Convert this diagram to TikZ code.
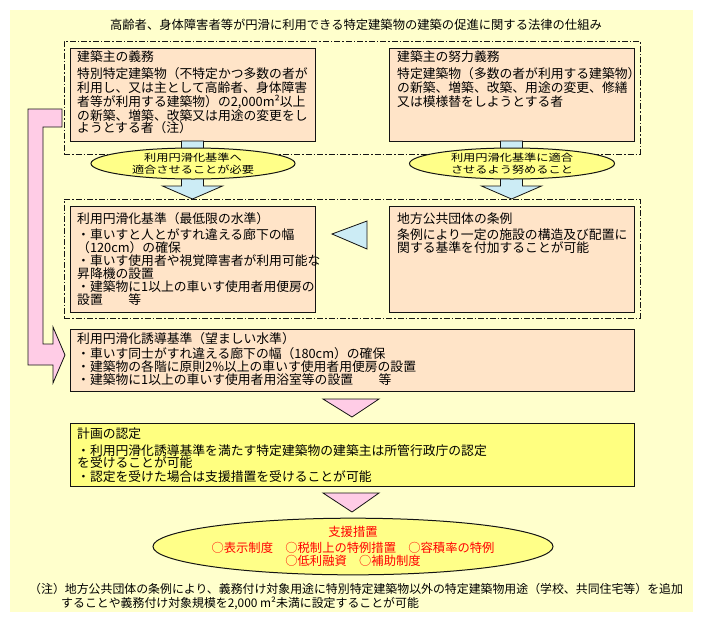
\documentclass[tikz,border=0pt]{standalone}
\usepackage{fontspec}
\setmainfont{Noto Sans CJK JP}
\usepackage{graphicx}
\usetikzlibrary{calc,shapes.geometric}
\definecolor{bgyel}{HTML}{FFFFCC}
\definecolor{peach}{HTML}{FFE4C8}
\definecolor{boxyel}{HTML}{FFFF80}
\definecolor{elyel}{HTML}{FFFF88}
\definecolor{lblue}{HTML}{CCECF5}
\definecolor{pinkc}{HTML}{FFCCE6}
\definecolor{outl}{HTML}{141414}
\definecolor{redtxt}{HTML}{FF0000}
\newcommand{\jline}[4]{\node[txt] (#1) at (#2,#3) {#4};}
\begin{document}
\begin{tikzpicture}[x=1pt,y=-1pt,
  pbox/.style={draw=outl,line width=1pt,fill=peach,anchor=north west,inner sep=0pt,outer sep=0pt},
  ybox/.style={pbox,fill=boxyel},
  dashbox/.style={draw=outl,line width=0.8pt,dash pattern=on 6pt off 2pt on 1.5pt off 2pt,anchor=north west,inner sep=0pt,outer sep=0pt},
  oval/.style={ellipse,draw=outl,line width=1pt,fill=elyel,inner sep=0pt,outer sep=0pt,align=center},
  blk/.style={draw=outl,line width=0.8pt,fill=lblue},
  pinkshape/.style={draw=outl,line width=0.8pt,fill=pinkc},
  txt/.style={anchor=base west,inner sep=0pt,font=\fontsize{12.8}{13.5}\selectfont},
  ttl/.style={anchor=base,inner sep=0pt,font=\fontsize{12.3}{13}\selectfont},
  foot/.style={anchor=base west,inner sep=0pt,font=\fontsize{11.9}{13}\selectfont},
  eltxt/.style={font=\fontsize{12.2}{11.4}\selectfont},
]
\useasboundingbox (0,0) rectangle (703,622);
\fill[white] (0,0) rectangle (703,622);
\fill[bgyel] (10,10) rectangle (693,612);

% title
\node[ttl] (title) at (356,29) {高齢者、身体障害者等が円滑に利用できる特定建築物の建築の促進に関する法律の仕組み};

% dashed groups
\node[dashbox,minimum width=576,minimum height=113] (d1) at (64,41) {};
\node[dashbox,minimum width=576,minimum height=119] (d2) at (64,199) {};

% boxes
\node[pbox,minimum width=245,minimum height=93] (b1) at (70,48) {};
\node[pbox,minimum width=245,minimum height=93] (b2) at (389,48) {};
\node[pbox,minimum width=245,minimum height=106] (b3) at (70,206) {};
\node[pbox,minimum width=245,minimum height=106] (b4) at (389,206) {};
\node[pbox,minimum width=564,minimum height=62] (b5) at (70,329) {};
\node[ybox,minimum width=564,minimum height=63] (b6) at (70,423) {};

% blue block arrows (behind ellipses)
\draw[blk] ($(b1.south)+(-11,0)$) -- ($(b1.south)+(11,0)$) -- ($(b1.south)+(11,45)$) -- ($(b1.south)+(30,45)$)
  -- ($(b1.south)+(0,58)$) -- ($(b1.south)+(-30,45)$) -- ($(b1.south)+(-11,45)$) -- cycle;
\draw[blk] ($(b2.south)+(-11,0)$) -- ($(b2.south)+(11,0)$) -- ($(b2.south)+(11,45)$) -- ($(b2.south)+(30,45)$)
  -- ($(b2.south)+(0,58)$) -- ($(b2.south)+(-30,45)$) -- ($(b2.south)+(-11,45)$) -- cycle;

% ellipses
\node[oval,eltxt,minimum width=204,minimum height=31] (e1) at (193,163.5)
  {\scalebox{1}[0.82]{利用円滑化基準へ}\\\scalebox{1}[0.82]{適合させることが必要}};
\node[oval,eltxt,minimum width=205,minimum height=31] (e2) at (512,163.5)
  {\scalebox{1}[0.82]{利用円滑化基準に適合}\\\scalebox{1}[0.82]{させるよう努めること}};
\node[oval,minimum width=352,minimum height=53,text=redtxt,font=\fontsize{12.3}{12.6}\selectfont] (e3) at (353,546.5)
  {支援措置\\[3.5pt]○表示制度　○税制上の特例措置　○容積率の特例\\○低利融資　○補助制度};

% left-pointing triangle
\draw[blk] (332,234) -- (367,221) -- (367,249) -- cycle;

% pink down triangles
\draw[pinkshape] ($(b5.south)+(-29,8)$) -- ($(b5.south)+(27,8)$) -- ($(b5.south)+(0,26)$) -- cycle;
\draw[pinkshape] ($(b6.south)+(-29,7)$) -- ($(b6.south)+(27,7)$) -- ($(b6.south)+(0,26)$) -- cycle;

% pink bent arrow
\draw[pinkshape] (28,109) -- (62,109) -- (62,127) -- (43,127) -- (43,344) -- (53,344) -- (53,327)
  -- (65,355) -- (53,383) -- (53,365) -- (28,365) -- cycle;

% texts box 1
\jline{t11}{77}{61.5}{建築主の義務}
\jline{t12}{77}{78}{特別特定建築物（不特定かつ多数の者が}
\jline{t13}{77}{92}{利用し、又は主として高齢者、身体障害}
\jline{t14}{77}{106.5}{者等が利用する建築物）の2,000m²以上}
\jline{t15}{77}{120}{の新築、増築、改築又は用途の変更をし}
\jline{t16}{77}{132.5}{ようとする者（注）}
% box 2
\jline{t21}{397}{61.5}{建築主の努力義務}
\jline{t22}{397}{78}{特定建築物（多数の者が利用する建築物）}
\jline{t23}{397}{92}{の新築、増築、改築、用途の変更、修繕}
\jline{t24}{397}{106.5}{又は模様替をしようとする者}
% box 3
\jline{t31}{77}{223.7}{利用円滑化基準（最低限の水準）}
\jline{t32}{77}{239.7}{・車いすと人とがすれ違える廊下の幅}
\jline{t33}{77}{252.5}{（120cm）の確保}
\jline{t34}{77}{265.7}{・車いす使用者や視覚障害者が利用可能な}
\jline{t35}{77}{278}{昇降機の設置}
\jline{t36}{77}{291.5}{・建築物に1以上の車いす使用者用便房の}
\jline{t37}{77}{304}{設置　　等}
% box 4
\jline{t41}{397}{223.7}{地方公共団体の条例}
\jline{t42}{397}{239.7}{条例により一定の施設の構造及び配置に}
\jline{t43}{397}{252.5}{関する基準を付加することが可能}
% box 5
\jline{t51}{77}{343}{利用円滑化誘導基準（望ましい水準）}
\jline{t52}{77}{358.7}{・車いす同士がすれ違える廊下の幅（180cm）の確保}
\jline{t53}{77}{371.5}{・建築物の各階に原則2\%以上の車いす使用者用便房の設置}
\jline{t54}{77}{384.7}{・建築物に1以上の車いす使用者用浴室等の設置　　等}
% box 6
\jline{t61}{77}{438}{計画の認定}
\jline{t62}{77}{455.7}{・利用円滑化誘導基準を満たす特定建築物の建築主は所管行政庁の認定}
\jline{t63}{77}{467.5}{を受けることが可能}
\jline{t64}{77}{481.5}{・認定を受けた場合は支援措置を受けることが可能}

% footnote
\node[foot] (f1) at (29,593) {（注）地方公共団体の条例により、義務付け対象用途に特別特定建築物以外の特定建築物用途（学校、共同住宅等）を追加};
\node[foot] (f2) at (61,607) {することや義務付け対象規模を2,000 m²未満に設定することが可能};
\end{tikzpicture}
\end{document}
